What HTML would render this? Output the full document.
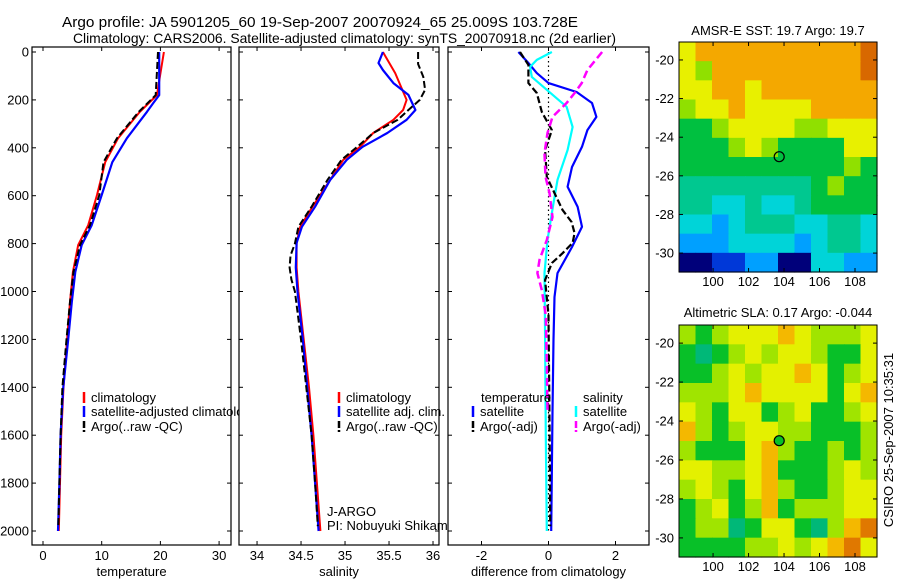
<!DOCTYPE html>
<html><head><meta charset="utf-8"><style>
html,body{margin:0;padding:0;background:#fff}
svg{display:block;font-family:"Liberation Sans",sans-serif}
</style></head><body>
<svg id="c" width="900" height="580" viewBox="0 0 900 580" xmlns="http://www.w3.org/2000/svg">
<text x="62" y="27" font-size="14.5" textLength="516" lengthAdjust="spacingAndGlyphs">Argo profile: JA 5901205_60 19-Sep-2007 20070924_65 25.009S 103.728E</text>
<text x="73" y="43" font-size="14" textLength="543" lengthAdjust="spacingAndGlyphs">Climatology: CARS2006. Satellite-adjusted climatology: synTS_20070918.nc (2d earlier)</text>
<g id="g"></g>
</svg>
<script>
const depthTicks=[0,200,400,600,800,1000,1200,1400,1600,1800,2000];
const tempTicks=[0,10,20,30];
const salTicks=[34,34.5,35,35.5,36];
const diffTicks=[-2,0,2];
// temperature panel
const tClimDepth=[0,180,250,360,460,597,723,806,918,1044,1200,1400,1600,1800,2000];
const tClim=[20.6,19.4,16.5,12.8,10.6,9.2,7.7,6.0,5.1,4.6,4.1,3.5,3.1,2.9,2.7];
const tSatDepth=[0,180,213,250,360,460,597,723,806,918,1044,1200,1411,1600,1800,2000];
const tSat=[19.8,19.8,18.8,17.7,14.3,11.8,10.0,8.3,6.6,5.5,4.9,4.3,3.4,3.0,2.8,2.55];
const tArgoDepth=[0,180,250,360,460,597,723,806,918,1044,1200,1400,1600,1800,1980];
const tArgo=[19.6,19.2,16.3,12.6,10.3,9.6,8.0,6.3,5.2,4.6,4.0,3.3,3.0,2.8,2.6];
// salinity panel
const sClimDepth=[0,88,200,242,283,338,396,450,535,646,730,797,900,1000,1200,1400,1600,1800,2000];
const sClim=[35.43,35.57,35.70,35.66,35.55,35.32,35.17,34.98,34.83,34.63,34.49,34.45,34.45,34.47,34.53,34.59,34.64,34.68,34.72];
const sSatDepth=[0,46,75,130,179,242,283,338,396,450,535,646,730,797,900,1000,1200,1400,1600,1800,2000];
const sSat=[35.43,35.38,35.43,35.55,35.72,35.80,35.70,35.48,35.20,35.02,34.83,34.66,34.51,34.45,34.44,34.46,34.52,34.57,34.62,34.66,34.70];
const sArgoDepth=[0,50,104,158,200,242,283,338,396,450,535,646,730,800,850,900,950,1000,1200,1400,1600,1800,1980];
const sArgo=[35.83,35.83,35.89,35.91,35.85,35.72,35.60,35.32,35.14,34.96,34.80,34.62,34.47,34.43,34.38,34.37,34.39,34.43,34.50,34.56,34.62,34.66,34.69];
// difference panel
const dTSatDepth=[0,46,88,130,167,213,271,326,396,480,563,646,730,814,923,1023,1200,1500,2000];
const dTSat=[-0.9,-0.6,-0.35,0.0,0.84,1.3,1.43,1.16,1.0,0.7,0.57,0.87,1.0,0.7,0.27,0.18,0.15,0.12,0.08];
const dSSatDepth=[0,33,62,104,158,229,313,409,534,646,785,923,1200,1600,2000];
const dSSat=[0.1,-0.35,-0.55,-0.5,-0.05,0.54,0.72,0.57,0.27,0.13,-0.03,-0.12,-0.1,-0.08,-0.05];
const dTArgoDepth=[0,54,130,171,250,326,409,521,589,660,710,756,797,840,881,952,1100,1400,1700,1980];
const dTArgo=[-0.85,-0.6,-0.6,-0.35,-0.2,0.1,-0.1,-0.05,0.18,0.42,0.69,0.78,0.72,0.42,0.1,-0.1,0.0,0.02,0.04,0.05];
const dSArgoDepth=[0,75,130,171,213,271,338,422,521,589,689,785,868,923,994,1100,1300,1500];
const dSArgo=[1.6,1.16,0.99,0.78,0.54,0.12,-0.03,-0.12,-0.09,0.03,0.12,-0.05,-0.27,-0.33,-0.2,-0.08,-0.05,-0.03];
// maps (palette index per cell, rows north->south)
const sstGrid=["788888888889","768888888889","778878888888","677877778888","556777766777","555676555577","555555555565","444444445655","443343345555","332344433443","222333323443","001122003322"];
const slaGrid=["656777876667","545676776557","556767787567","666787777578","765775675567","865677665556","655578655656","776678555676","676578655677","567568566677","566457754689","555566767897"];
const sstPalette=["#00007a","#0038d8","#00a0ff","#00d4d8","#00c890","#00c040","#90e000","#e8f000","#f4a800","#d86800"];
const slaPalette=["#00007a","#0038d8","#00a0ff","#00d8d0","#00b878","#08c028","#a0e400","#e4f000","#f4b800","#e07800"];

const NS="http://www.w3.org/2000/svg";
const G=document.getElementById('g');
function mk(tag,attrs,parent){const e=document.createElementNS(NS,tag);for(const k in attrs)e.setAttribute(k,attrs[k]);(parent||G).appendChild(e);return e;}
const TOP=52,BOT=545;
function yD(d){return TOP+d*0.2395;}
const panels=[
 {name:'temperature-panel',x0:32,x1:231,lo:-1.874,hi:32.03,ticks:tempTicks,label:'temperature'},
 {name:'salinity-panel',x0:239,x1:439,lo:33.795,hi:36.068,ticks:salTicks,label:'salinity'},
 {name:'difference-panel',x0:448,x1:649,lo:-3.0,hi:3.0,ticks:diffTicks,label:'difference from climatology'}
];
function xf(p){return v=>p.x0+(v-p.lo)/(p.hi-p.lo)*(p.x1-p.x0);}
panels.forEach((p,i)=>{
 const g=mk('g',{});
 
 
 const r=mk('rect',{x:p.x0,y:TOP-5,width:p.x1-p.x0,height:BOT-TOP+5,fill:'#fff',stroke:'#000','stroke-width':1.2},g);
 
 
 p.g=g;p.x=xf(p);
 depthTicks.forEach(d=>{
  mk('line',{x1:p.x0,x2:p.x0+4,y1:yD(d),y2:yD(d),stroke:'#000'},g);
  mk('line',{x1:p.x1,x2:p.x1-4,y1:yD(d),y2:yD(d),stroke:'#000'},g);
  if(i===0){const t=mk('text',{x:p.x0-3,y:yD(d)+4.5,'font-size':13,'text-anchor':'end'},g);t.textContent=d;
   }
 });
 p.ticks.forEach(v=>{
  const X=p.x(v);
  mk('line',{x1:X,x2:X,y1:BOT,y2:BOT-4,stroke:'#000'},g);
  mk('line',{x1:X,x2:X,y1:TOP-5,y2:TOP-1,stroke:'#000'},g);
  const t=mk('text',{x:X,y:560,'font-size':13,'text-anchor':'middle'},g);t.textContent=v;
  
 });
 const lt=mk('text',{x:(p.x0+p.x1)/2,y:576,'font-size':13,'text-anchor':'middle'},g);lt.textContent=p.label;
 
});
function line(p,vals,depths,color,dash,w,name){
 const pts=vals.map((v,k)=>p.x(v).toFixed(1)+','+yD(depths[k]).toFixed(1)).join(' ');
 const e=mk('polyline',{points:pts,fill:'none',stroke:color,'stroke-width':w||2,'stroke-linejoin':'round'},p.g);
 if(dash)e.setAttribute('stroke-dasharray',dash);
 
 
}
const [P1,P2,P3]=panels;
line(P1,tClim,tClimDepth,'#f00',null,2,'temp-climatology-line');
line(P1,tSat,tSatDepth,'#00f',null,2.2,'temp-satellite-line');
line(P1,tArgo,tArgoDepth,'#000','7,3',2,'temp-argo-line');
line(P2,sClim,sClimDepth,'#f00',null,2,'sal-climatology-line');
line(P2,sSat,sSatDepth,'#00f',null,2.2,'sal-satellite-line');
line(P2,sArgo,sArgoDepth,'#000','7,3',2,'sal-argo-line');
mk('line',{x1:P3.x(0),x2:P3.x(0),y1:TOP,y2:yD(2000),stroke:'#000','stroke-dasharray':'1.5,3','stroke-width':1.2},P3.g);
line(P3,dTSat,dTSatDepth,'#00f',null,2.2,'diff-temp-satellite-line');
line(P3,dSSat,dSSatDepth,'#0ff',null,2.2,'diff-sal-satellite-line');
line(P3,dTArgo,dTArgoDepth,'#000','7,3',2.2,'diff-temp-argo-line');
line(P3,dSArgo,dSArgoDepth,'#f0f','8,4',2.5,'diff-sal-argo-line');
function legend(g,x,y,color,label,dash){
 const ln=mk('line',{x1:x,x2:x,y1:y-10,y2:y+1,stroke:color,'stroke-width':2.5},g);
 if(dash)ln.setAttribute('stroke-dasharray',dash);
 const t=mk('text',{x:x+7,y:y,'font-size':13},g);t.textContent=label;
 
}
legend(P1.g,84,402,'#f00','climatology');
legend(P1.g,84,416,'#00f','satellite-adjusted climatology');
legend(P1.g,84,431,'#000','Argo(..raw -QC)','7,2');
legend(P2.g,339,402,'#f00','climatology');
legend(P2.g,339,416,'#00f','satellite adj. clim.');
legend(P2.g,339,431,'#000','Argo(..raw -QC)','7,2');
const th=mk('text',{x:481,y:402,'font-size':13},P3.g);th.textContent='temperature';

const sh=mk('text',{x:583,y:402,'font-size':13},P3.g);sh.textContent='salinity';

legend(P3.g,473,416,'#00f','satellite');
legend(P3.g,473,431,'#000','Argo(-adj)','7,2');
legend(P3.g,576,416,'#0ff','satellite');
legend(P3.g,576,431,'#f0f','Argo(-adj)','7,2');
const j1=mk('text',{x:327,y:516,'font-size':13},P2.g);j1.textContent='J-ARGO';

const j2=mk('text',{x:327,y:530,'font-size':13},P2.g);j2.textContent='PI: Nobuyuki Shikama';

G.appendChild(P2.g);G.appendChild(P3.g);

// maps
const latTicks=[-20,-22,-24,-26,-28,-30];
const lonTicks=[100,102,104,106,108];
const floatLon=103.728, floatLat=-25.009;
function drawMap(name,top,bot,grid,pal,title,mname,titleY){
 const g=mk('g',{});
 
 
 const x0=679,x1=877,lonLo=98.08,lonHi=109.24;
 const latTopV=-19.07,latBotV=-30.98;
 const X=v=>x0+(v-lonLo)/(lonHi-lonLo)*(x1-x0);
 const Y=v=>top+(latTopV-v)/(latTopV-latBotV)*(bot-top);
 const rows=grid.length,cols=grid[0].length,cw=(x1-x0)/cols,ch=(bot-top)/rows;
 grid.forEach((row,r)=>{for(let c=0;c<cols;c++){
  const cell=mk('rect',{x:(x0+c*cw).toFixed(2),y:(top+r*ch).toFixed(2),width:(cw+0.6).toFixed(2),height:(ch+0.6).toFixed(2),fill:pal[+row[c]]},g);
  
  
 }});
 mk('rect',{x:x0,y:top,width:x1-x0,height:bot-top,fill:'none',stroke:'#000','stroke-width':1},g);
 latTicks.forEach(v=>{
  mk('line',{x1:x0,x2:x0+4,y1:Y(v),y2:Y(v),stroke:'#000'},g);
  mk('line',{x1:x1,x2:x1-4,y1:Y(v),y2:Y(v),stroke:'#000'},g);
  const t=mk('text',{x:x0-5,y:Y(v)+4.5,'font-size':13,'text-anchor':'end'},g);t.textContent=v;
  
 });
 lonTicks.forEach(v=>{
  mk('line',{x1:X(v),x2:X(v),y1:top,y2:top+4,stroke:'#000'},g);
  mk('line',{x1:X(v),x2:X(v),y1:bot,y2:bot-4,stroke:'#000'},g);
  const t=mk('text',{x:X(v),y:bot+14,'font-size':13,'text-anchor':'middle'},g);t.textContent=v;
  
 });
 const c=mk('circle',{cx:X(floatLon),cy:Y(floatLat),r:5,fill:mname==='sla-float-marker'?'#08c028':'none',stroke:'#000','stroke-width':1.2},g);
 
 
 const t=mk('text',{x:778,y:titleY,'font-size':13,'text-anchor':'middle'},g);t.textContent=title;
 
}
drawMap('sst-map',42,272,sstGrid,sstPalette,'AMSR-E SST: 19.7 Argo: 19.7','sst-float-marker',35);
drawMap('sla-map',325,557,slaGrid,slaPalette,'Altimetric SLA: 0.17 Argo: -0.044','sla-float-marker',317);
const cs=mk('text',{x:0,y:0,'font-size':13,'text-anchor':'middle',transform:'translate(893,440) rotate(-90)'});
cs.textContent='CSIRO 25-Sep-2007 10:35:31';


</script>
</body></html>
